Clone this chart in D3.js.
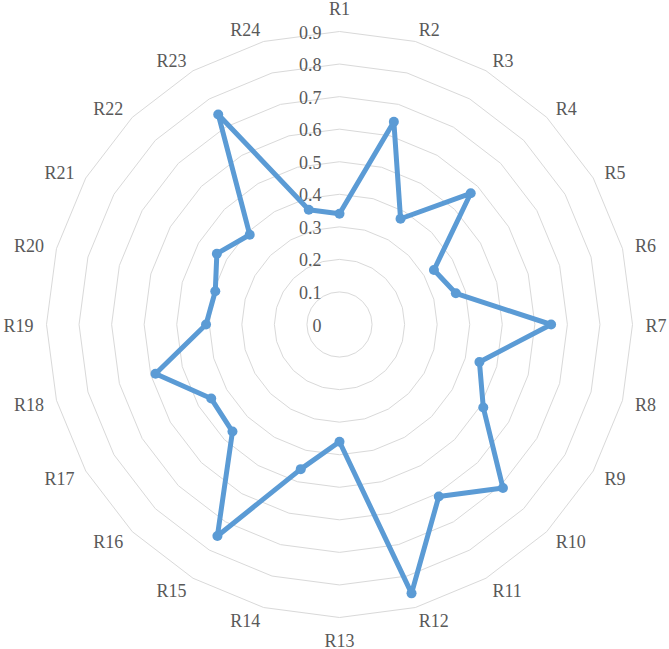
<!DOCTYPE html>
<html><head><meta charset="utf-8">
<script src="https://cdn.jsdelivr.net/npm/d3@7"></script>
<style>body{margin:0;background:#fff}svg{display:block}</style>
</head><body>
<svg id="chart" width="669" height="649"></svg>
<script>
const categories = ["R1","R2","R3","R4","R5","R6","R7","R8","R9","R10","R11","R12","R13","R14","R15","R16","R17","R18","R19","R20","R21","R22","R23","R24"];
const values = [0.34,0.645,0.375,0.57,0.335,0.37,0.65,0.445,0.51,0.71,0.61,0.855,0.36,0.46,0.75,0.465,0.455,0.585,0.41,0.395,0.435,0.39,0.745,0.365];
const ticks = [0,0.1,0.2,0.3,0.4,0.5,0.6,0.7,0.8,0.9];
const tickLabels = ["0","0.1","0.2","0.3","0.4","0.5","0.6","0.7","0.8","0.9"];

const svg = d3.select("#chart");
const cx = 339.5, cy = 324.5;
const r = d3.scaleLinear().domain([0, 0.9]).range([0, 293]);
const angle = d3.scalePoint().domain(categories.concat(["_end"])).range([0, 2*Math.PI]);
const g = svg.append("g").attr("transform", `translate(${cx},${cy})`);
const font = "'Liberation Serif','Times New Roman',serif";

// grid rings
const ringLine = d3.lineRadial().angle(d => d[0]).radius(d => d[1]).curve(d3.curveLinearClosed);
ticks.filter(t => t > 0).forEach(t => {
  g.append("path")
    .attr("d", ringLine(categories.map(c => [angle(c), r(t)])))
    .attr("fill", "none").attr("stroke", "#d9d9d9").attr("stroke-width", 1);
});

// tick labels
g.selectAll("text.tick").data(ticks).join("text")
  .attr("class", "tick")
  .attr("x", -18).attr("y", d => -r(d) + 1)
  .attr("text-anchor", "end").attr("dominant-baseline", "central")
  .style("font-family", font).style("font-size", "18px").attr("fill", "#595959")
  .text((d, i) => tickLabels[i]);

// category labels: left/right of the anchor point, except straight up/down
const labelR = 306;
g.selectAll("text.cat").data(categories).join("text")
  .attr("class", "cat")
  .each(function(d) {
    const a = angle(d), s = Math.sin(a), c = Math.cos(a);
    const t = d3.select(this);
    let x = labelR * s, y = -labelR * c, anchor = "middle";
    if (Math.abs(s) < 0.01) { y += (c > 0 ? -10 : 10); }
    else { anchor = s > 0 ? "start" : "end"; y += 1; }
    t.attr("x", x).attr("y", y).attr("text-anchor", anchor);
  })
  .attr("dominant-baseline", "central")
  .style("font-family", font).style("font-size", "18px").attr("fill", "#595959")
  .text(d => d);

// data line
const dataLine = d3.lineRadial().angle((d, i) => angle(categories[i])).radius(d => r(d)).curve(d3.curveLinearClosed);
g.append("path").attr("d", dataLine(values))
  .attr("fill", "none").attr("stroke", "#5b9bd5").attr("stroke-width", 5).attr("stroke-linejoin", "round");

g.selectAll("circle.pt").data(values).join("circle")
  .attr("class", "pt")
  .attr("cx", (d, i) => r(d) * Math.sin(angle(categories[i])))
  .attr("cy", (d, i) => -r(d) * Math.cos(angle(categories[i])))
  .attr("r", 5).attr("fill", "#5b9bd5");
</script>
</body></html>
